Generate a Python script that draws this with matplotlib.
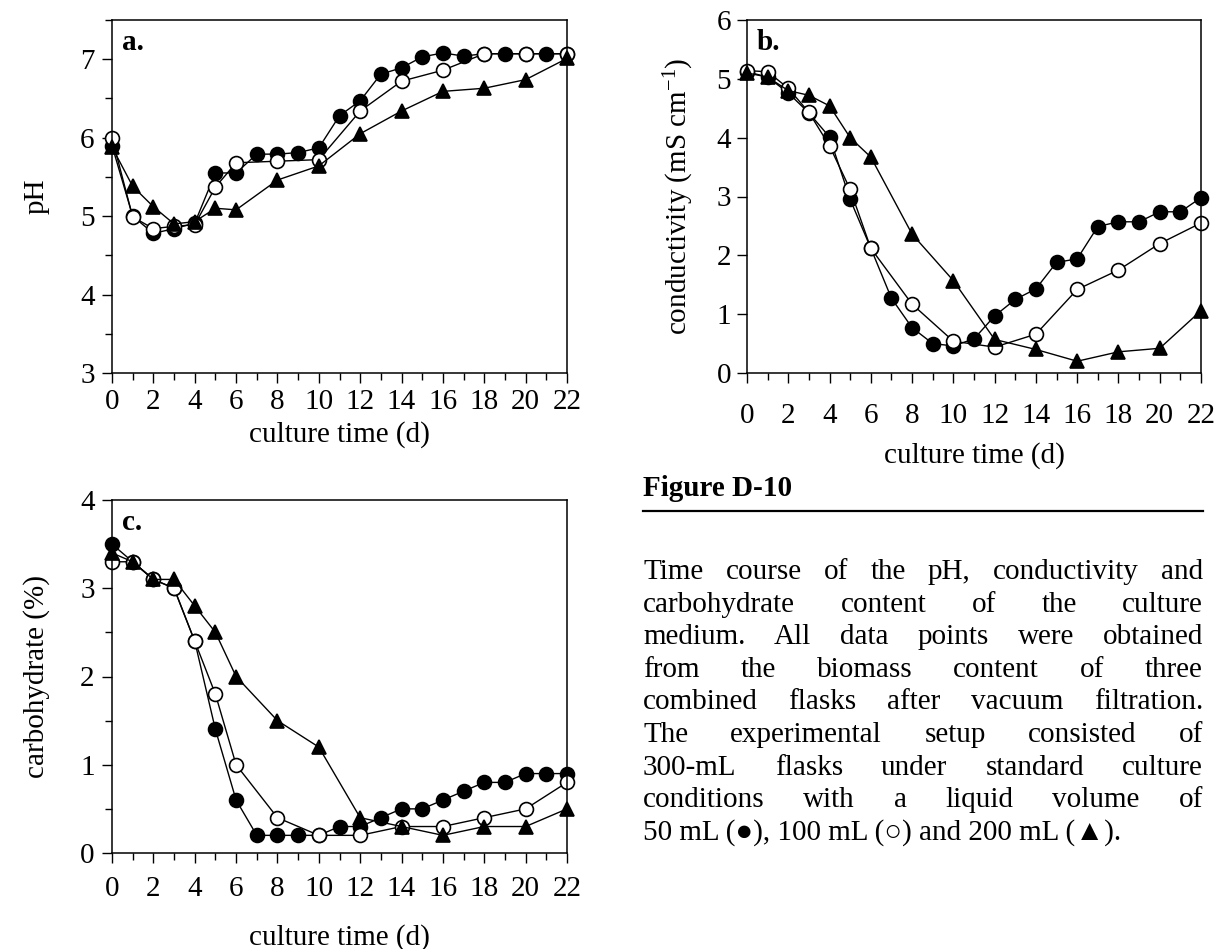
import matplotlib
matplotlib.use("Agg")
import matplotlib.pyplot as plt
from matplotlib.ticker import MultipleLocator

plt.rcParams["font.family"] = ["Liberation Serif", "DejaVu Serif"]
plt.rcParams["mathtext.fontset"] = "custom"
plt.rcParams["mathtext.rm"] = "Liberation Serif"
plt.rcParams["mathtext.it"] = "Liberation Serif:italic"

FS = 21

# ── data ─────────────────────────────────────────────────────────────────────
days_daily = list(range(23))
days_sparse = [0, 1, 2, 3, 4, 5, 6, 8, 10, 12, 14, 16, 18, 20, 22]

ph_50 = [5.90, 5.00, 4.78, 4.84, 4.91, 5.55, 5.55, 5.79, 5.79, 5.81, 5.87, 6.28,
         6.47, 6.81, 6.89, 7.03, 7.08, 7.04, 7.07, 7.07, 7.07, 7.07, 7.07]
ph_100 = [6.00, 4.99, 4.84, 4.87, 4.89, 5.37, 5.68, 5.70, 5.72, 6.34, 6.72,
          6.86, 7.07, 7.07, 7.07]
ph_200 = [5.88, 5.38, 5.12, 4.90, 4.93, 5.10, 5.08, 5.46, 5.64, 6.05, 6.34,
          6.59, 6.63, 6.74, 7.01]

cond_50 = [5.12, 5.03, 4.76, 4.42, 4.01, 2.95, 2.12, 1.27, 0.77, 0.50, 0.46, 0.58,
           0.97, 1.25, 1.43, 1.88, 1.94, 2.49, 2.57, 2.57, 2.74, 2.74, 2.98]
cond_100 = [5.14, 5.12, 4.84, 4.43, 3.86, 3.12, 2.12, 1.17, 0.54, 0.44, 0.66,
            1.42, 1.75, 2.20, 2.55]
cond_200 = [5.10, 5.03, 4.80, 4.72, 4.54, 4.00, 3.67, 2.36, 1.57, 0.57, 0.40,
            0.20, 0.36, 0.42, 1.06]

carb_50 = [3.5, 3.3, 3.1, 3.0, 2.4, 1.4, 0.6, 0.2, 0.2, 0.2, 0.2, 0.3,
           0.3, 0.4, 0.5, 0.5, 0.6, 0.7, 0.8, 0.8, 0.9, 0.9, 0.9]
carb_100 = [3.3, 3.3, 3.1, 3.0, 2.4, 1.8, 1.0, 0.4, 0.2, 0.2, 0.3, 0.3, 0.4, 0.5, 0.8]
carb_200 = [3.4, 3.3, 3.1, 3.1, 2.8, 2.5, 2.0, 1.5, 1.2, 0.4, 0.3, 0.2, 0.3, 0.3, 0.5]

caption_title = "Figure D-10"
caption_lines = [
    "Time course of the pH, conductivity and",
    "carbohydrate content of the culture",
    "medium. All data points were obtained",
    "from the biomass content of three",
    "combined flasks after vacuum filtration.",
    "The experimental setup consisted of",
    "300-mL flasks under standard culture",
    "conditions with a liquid volume of",
    "50 mL (\u25cf), 100 mL (\u25cb) and 200 mL (\u25b2).",
]

# ── figure ───────────────────────────────────────────────────────────────────
W, H = 1218, 949
fig = plt.figure(figsize=(W / 100, H / 100), dpi=100)


def px_axes(l, t, r, b):
    return fig.add_axes([l / W, 1 - b / H, (r - l) / W, (b - t) / H])


def style(ax, ymin, ymax, yminor, ylabel, tag, ylab_x, ypad, xpad, xlab_y):
    ax.set_xlim(0, 22)
    ax.set_ylim(ymin, ymax)
    ax.xaxis.set_major_locator(MultipleLocator(2))
    ax.xaxis.set_minor_locator(MultipleLocator(1))
    ax.yaxis.set_major_locator(MultipleLocator(1))
    if yminor:
        ax.yaxis.set_minor_locator(MultipleLocator(0.5))
    ax.tick_params(which="both", direction="out", width=1.0, labelsize=FS,
                   top=False, right=False)
    ax.tick_params(which="major", length=7.5)
    ax.tick_params(which="minor", length=4.8)
    ax.tick_params(axis="x", pad=xpad)
    ax.tick_params(axis="y", pad=ypad)
    for s in ax.spines.values():
        s.set_linewidth(1.1)
    ax.set_xlabel("culture time (d)", fontsize=FS)
    ax.xaxis.set_label_coords(0.5, xlab_y)
    ax.set_ylabel(ylabel, fontsize=FS)
    ax.yaxis.set_label_coords(ylab_x, 0.5)
    ax.text(0.022, 0.915, tag, transform=ax.transAxes, fontsize=FS,
            fontweight="bold", va="baseline")


def draw(ax, y50, y100, y200):
    kw = dict(color="black", lw=1.0, ms=10, mew=1.2, clip_on=False)
    ax.plot(days_daily, y50, marker="o", mfc="black", mec="black", **kw)
    ax.plot(days_sparse, y100, marker="o", mfc="white", mec="black", **kw)
    ax.plot(days_sparse, y200, marker="^", mfc="black", mec="black", **kw)


ax_a = px_axes(112, 20, 567, 373)
draw(ax_a, ph_50, ph_100, ph_200)
style(ax_a, 3, 7.5, True, "pH", "a.", -0.137, 5, 4, -0.136)

ax_b = px_axes(747, 20, 1201, 373)
draw(ax_b, cond_50, cond_100, cond_200)
style(ax_b, 0, 6, False, r"conductivity (mS cm$^{-1}$)", "b.", -0.112, 4, 14,
      -0.195)

ax_c = px_axes(112, 500, 567, 853)
draw(ax_c, carb_50, carb_100, carb_200)
style(ax_c, 0, 4, True, "carbohydrate (%)", "c.", -0.137, 5, 9, -0.200)

# ── caption (justified text) ─────────────────────────────────────────────────
cap_x0, cap_x1 = 643, 1203
fig.text(cap_x0 / W, 1 - 488 / H, caption_title, fontsize=FS,
         fontweight="bold", va="center")
fig.add_artist(plt.Line2D([cap_x0 / W, cap_x1 / W], [1 - 511 / H, 1 - 511 / H],
                          color="black", lw=1.6))

renderer = fig.canvas.get_renderer()
y_first, dy = 572, 32.6
for i, line in enumerate(caption_lines):
    y = 1 - (y_first + i * dy) / H
    if i == len(caption_lines) - 1:
        fig.text(cap_x0 / W, y, line, fontsize=FS, va="center",
                 family=["Liberation Serif", "DejaVu Sans"])
        continue
    words = line.split()
    texts = [fig.text(0, y, w, fontsize=FS, va="center") for w in words]
    widths = [t.get_window_extent(renderer).width for t in texts]
    gap = (cap_x1 - cap_x0 - sum(widths)) / (len(words) - 1)
    x = cap_x0
    for t, w in zip(texts, widths):
        t.set_x(x / W)
        x += w + gap

fig.savefig("out.png", dpi=100)
